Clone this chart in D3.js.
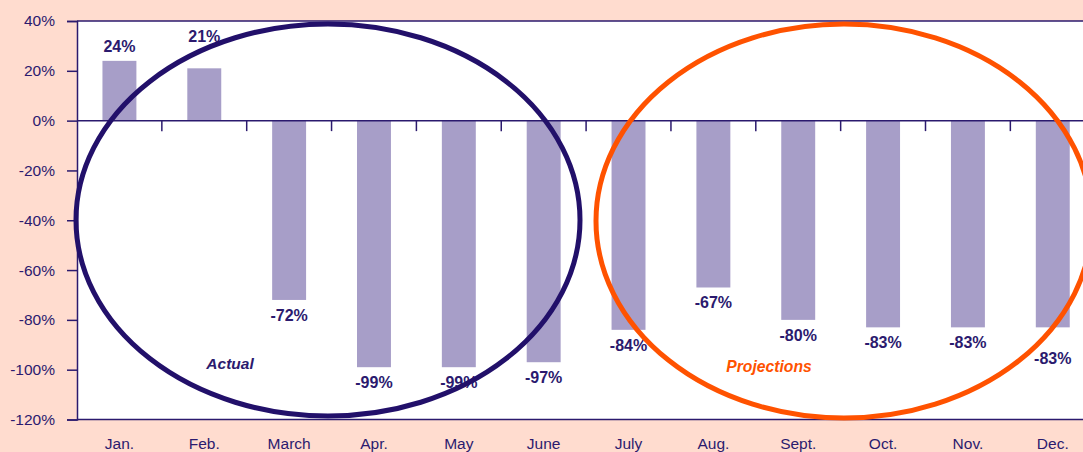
<!DOCTYPE html>
<html><head><meta charset="utf-8">
<script src="https://cdn.jsdelivr.net/npm/d3@7"></script>
<style>
html,body{margin:0;padding:0;background:#ffdccf;overflow:hidden}
text{font-family:"Liberation Sans",Arial,Helvetica,sans-serif}
</style></head>
<body><svg id="c" width="1083" height="452"></svg>
<script>
const categories = ["Jan.","Feb.","March","Apr.","May","June","July","Aug.","Sept.","Oct.","Nov.","Dec."];
const values = [24,21,-72,-99,-99,-97,-84,-67,-80,-83,-83,-83];
const yTicks = [40,20,0,-20,-40,-60,-80,-100,-120];
const groupLabels = ["Actual","Projections"];

const W = 1083, H = 452;
const mLeft = 77, mTop = 21, mBottom = 419.5, bandW = 84.85;
const mRight = mLeft + bandW * categories.length;
const ink = "#2b1a6e", barColor = "#a79ec8";

const svg = d3.select("#c");
svg.append("rect").attr("width", W).attr("height", H).attr("fill", "#ffdccf");

const x = d3.scaleBand().domain(categories).range([mLeft, mRight]).paddingInner(0.6).paddingOuter(0.3);
const y = d3.scaleLinear().domain([-120, 40]).range([mBottom, mTop]);

// plot area
svg.append("rect").attr("x", mLeft).attr("y", mTop).attr("width", mRight - mLeft).attr("height", mBottom - mTop).attr("fill", "#fff");

// bars
svg.append("g").selectAll("rect").data(values).join("rect")
  .attr("x", (d, i) => x(categories[i]))
  .attr("width", x.bandwidth())
  .attr("y", d => y(Math.max(0, d)))
  .attr("height", d => Math.abs(y(d) - y(0)))
  .attr("fill", barColor);

// frame top / bottom lines
svg.append("line").attr("x1", mLeft).attr("x2", mRight).attr("y1", mTop).attr("y2", mTop).attr("stroke", ink).attr("stroke-width", 1.3);
svg.append("line").attr("x1", mLeft).attr("x2", mRight).attr("y1", mBottom).attr("y2", mBottom).attr("stroke", ink).attr("stroke-width", 1.5);

// y axis
const yAxis = d3.axisLeft(y).tickValues(yTicks).tickSize(10).tickPadding(12).tickFormat(d => d + "%");
const gy = svg.append("g").attr("transform", `translate(${mLeft},0)`).call(yAxis);
gy.select(".domain").attr("stroke", ink).attr("stroke-width", 1.5);
gy.selectAll(".tick line").attr("stroke", ink).attr("stroke-width", 1.5);
gy.selectAll(".tick text").attr("fill", ink).attr("font-size", "15.5px").attr("font-family", "Liberation Sans, Arial, sans-serif");

// zero line with category ticks
const xb = d3.scalePoint().domain(d3.range(categories.length + 1)).range([mLeft, mRight]);
svg.append("line").attr("x1", mLeft).attr("x2", mRight).attr("y1", y(0)).attr("y2", y(0)).attr("stroke", ink).attr("stroke-width", 1.5);
svg.append("g").selectAll("line").data(d3.range(1, categories.length)).join("line")
  .attr("x1", d => xb(d)).attr("x2", d => xb(d))
  .attr("y1", y(0)).attr("y2", y(0) + 10.5)
  .attr("stroke", ink).attr("stroke-width", 1.5);

// x axis labels
const xAxis = d3.axisBottom(x).tickSize(0).tickPadding(18);
const gx = svg.append("g").attr("transform", `translate(0,${mBottom})`).call(xAxis);
gx.select(".domain").remove();
gx.selectAll(".tick text").attr("fill", ink).attr("font-size", "15.5px").attr("font-family", "Liberation Sans, Arial, sans-serif");

// value labels
const extraOffset = {1: 17.5, 11: 16};
svg.append("g").selectAll("text").data(values).join("text")
  .attr("x", (d, i) => x(categories[i]) + x.bandwidth() / 2)
  .attr("y", (d, i) => d >= 0 ? y(d) - 9 - (extraOffset[i] || 0) : y(d) + 21 + (extraOffset[i] || 0))
  .attr("text-anchor", "middle")
  .attr("font-size", "16px").attr("font-weight", "bold").attr("fill", ink)
  .text(d => d + "%");

// ellipses
svg.append("ellipse").attr("cx", 328).attr("cy", 220).attr("rx", 252).attr("ry", 196)
  .attr("fill", "none").attr("stroke", "#22106a").attr("stroke-width", 5);
svg.append("ellipse").attr("cx", 844).attr("cy", 221).attr("rx", 248).attr("ry", 197)
  .attr("fill", "none").attr("stroke", "#ff5200").attr("stroke-width", 5);

svg.append("text").attr("x", 230).attr("y", 369).attr("text-anchor", "middle")
  .attr("font-size", "15.5px").attr("font-weight", "bold").attr("font-style", "italic").attr("fill", ink).text(groupLabels[0]);
svg.append("text").attr("x", 769).attr("y", 372).attr("text-anchor", "middle")
  .attr("font-size", "15.7px").attr("font-weight", "bold").attr("font-style", "italic").attr("fill", "#ff5200").text(groupLabels[1]);
</script></body></html>
